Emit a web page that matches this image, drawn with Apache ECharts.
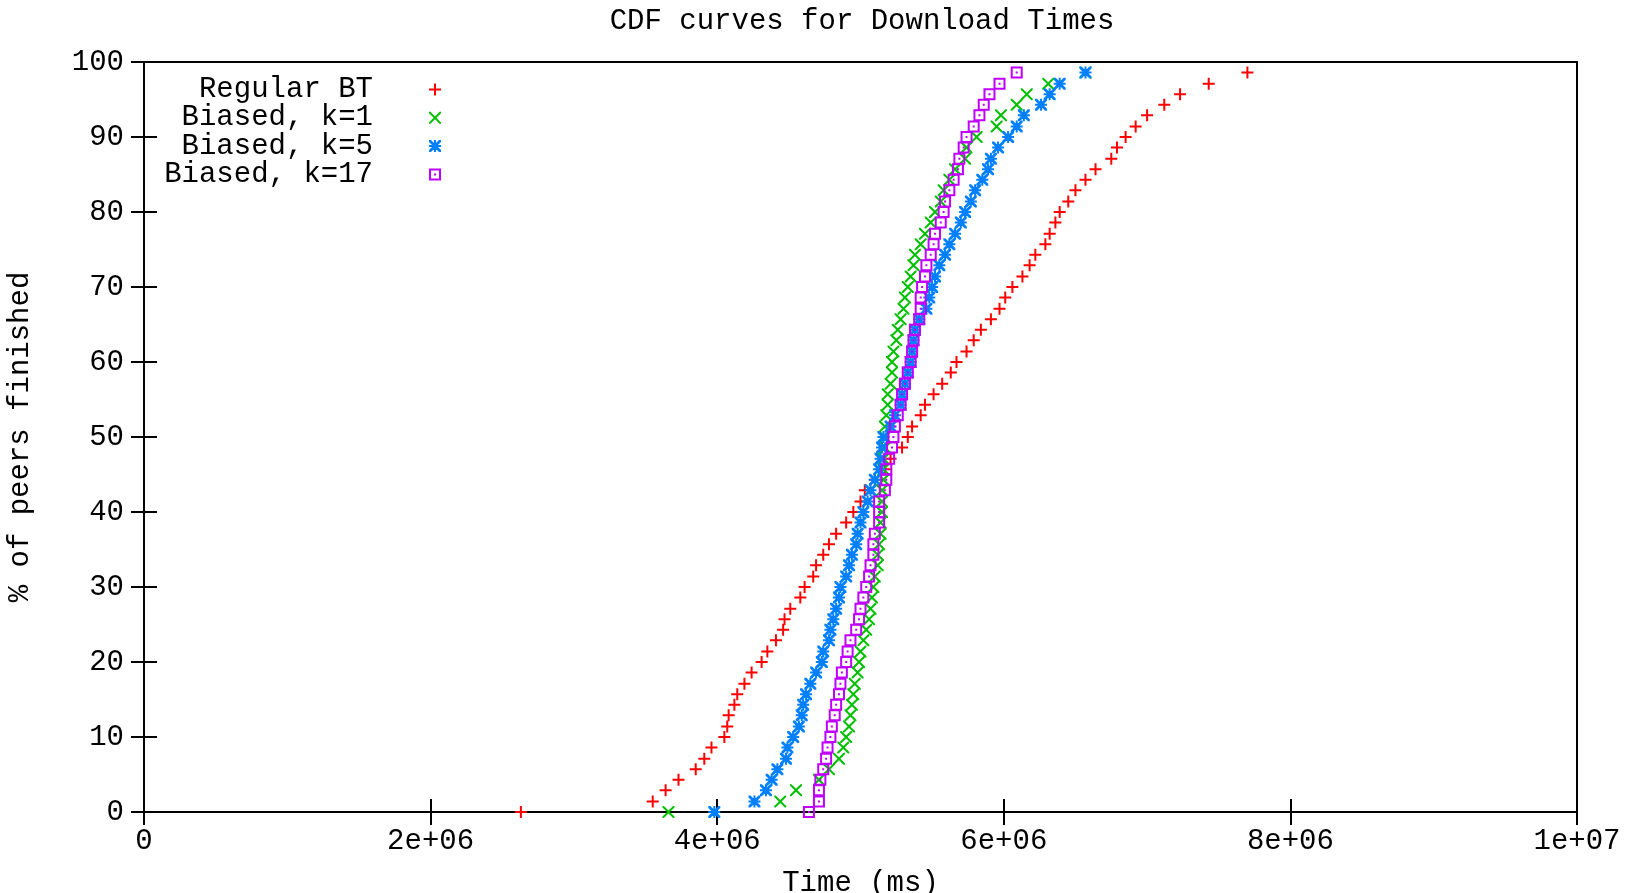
<!DOCTYPE html>
<html>
<head>
<meta charset="utf-8">
<title>CDF curves for Download Times</title>
<script src="https://cdn.jsdelivr.net/npm/echarts@6/dist/echarts.min.js"></script>
<style>
  html, body { margin: 0; padding: 0; background: #fff; }
  #main { width: 1639px; height: 893px; }
</style>
</head>
<body>
<div id="main"></div>
<script>
// % of peers finished, one step per peer (70 peers)
var pct = [0, 1.4, 2.9, 4.3, 5.7, 7.1, 8.6, 10, 11.4, 12.9, 14.3, 15.7, 17.1, 18.6,
  20, 21.4, 22.9, 24.3, 25.7, 27.1, 28.6, 30, 31.4, 32.9, 34.3, 35.7, 37.1, 38.6,
  40, 41.4, 42.9, 44.3, 45.7, 47.1, 48.6, 50, 51.4, 52.9, 54.3, 55.7, 57.1, 58.6,
  60, 61.4, 62.9, 64.3, 65.7, 67.1, 68.6, 70, 71.4, 72.9, 74.3, 75.7, 77.1, 78.6,
  80, 81.4, 82.9, 84.3, 85.7, 87.1, 88.6, 90, 91.4, 92.9, 94.3, 95.7, 97.1, 98.6];

// download times (ms), sorted
var regularBT = [2.63e6, 3.55e6, 3.64e6, 3.73e6, 3.85e6, 3.91e6, 3.96e6, 4.05e6, 4.07e6, 4.08e6,
  4.12e6, 4.14e6, 4.19e6, 4.24e6, 4.31e6, 4.35e6, 4.41e6, 4.46e6, 4.47e6, 4.51e6,
  4.58e6, 4.61e6, 4.67e6, 4.69e6, 4.74e6, 4.78e6, 4.83e6, 4.90e6, 4.95e6, 5.00e6,
  5.03e6, 5.10e6, 5.17e6, 5.21e6, 5.29e6, 5.33e6, 5.36e6, 5.42e6, 5.45e6, 5.51e6,
  5.57e6, 5.63e6, 5.67e6, 5.74e6, 5.79e6, 5.84e6, 5.91e6, 5.97e6, 6.01e6, 6.06e6,
  6.13e6, 6.18e6, 6.22e6, 6.29e6, 6.32e6, 6.36e6, 6.39e6, 6.45e6, 6.50e6, 6.57e6,
  6.64e6, 6.75e6, 6.79e6, 6.85e6, 6.92e6, 7.00e6, 7.12e6, 7.23e6, 7.43e6, 7.70e6];

var biasedK1 = [3.66e6, 4.44e6, 4.55e6, 4.71e6, 4.78e6, 4.85e6, 4.88e6, 4.90e6, 4.92e6, 4.93e6,
  4.94e6, 4.95e6, 4.96e6, 4.98e6, 4.99e6, 5.00e6, 5.02e6, 5.04e6, 5.06e6, 5.07e6,
  5.08e6, 5.09e6, 5.10e6, 5.12e6, 5.12e6, 5.13e6, 5.14e6, 5.14e6, 5.15e6, 5.15e6,
  5.15e6, 5.16e6, 5.16e6, 5.16e6, 5.17e6, 5.17e6, 5.17e6, 5.18e6, 5.19e6, 5.19e6,
  5.21e6, 5.22e6, 5.22e6, 5.23e6, 5.25e6, 5.26e6, 5.28e6, 5.30e6, 5.31e6, 5.33e6,
  5.35e6, 5.37e6, 5.38e6, 5.42e6, 5.45e6, 5.49e6, 5.52e6, 5.56e6, 5.58e6, 5.62e6,
  5.66e6, 5.73e6, 5.74e6, 5.81e6, 5.95e6, 5.98e6, 6.09e6, 6.16e6, 6.31e6, 6.57e6];

var biasedK5 = [3.98e6, 4.26e6, 4.34e6, 4.38e6, 4.42e6, 4.48e6, 4.49e6, 4.53e6, 4.57e6, 4.59e6,
  4.60e6, 4.62e6, 4.65e6, 4.69e6, 4.73e6, 4.74e6, 4.78e6, 4.79e6, 4.81e6, 4.83e6,
  4.85e6, 4.86e6, 4.90e6, 4.92e6, 4.94e6, 4.97e6, 4.98e6, 5.00e6, 5.02e6, 5.05e6,
  5.07e6, 5.10e6, 5.13e6, 5.14e6, 5.15e6, 5.16e6, 5.21e6, 5.24e6, 5.28e6, 5.29e6,
  5.31e6, 5.33e6, 5.35e6, 5.36e6, 5.37e6, 5.38e6, 5.41e6, 5.46e6, 5.48e6, 5.50e6,
  5.52e6, 5.55e6, 5.59e6, 5.62e6, 5.66e6, 5.70e6, 5.73e6, 5.77e6, 5.80e6, 5.85e6,
  5.89e6, 5.91e6, 5.96e6, 6.03e6, 6.09e6, 6.14e6, 6.26e6, 6.32e6, 6.39e6, 6.57e6];

var biasedK17 = [4.64e6, 4.71e6, 4.71e6, 4.72e6, 4.74e6, 4.76e6, 4.77e6, 4.79e6, 4.80e6, 4.82e6,
  4.83e6, 4.85e6, 4.86e6, 4.87e6, 4.90e6, 4.91e6, 4.93e6, 4.97e6, 4.99e6, 5.00e6,
  5.02e6, 5.04e6, 5.06e6, 5.07e6, 5.09e6, 5.09e6, 5.10e6, 5.13e6, 5.13e6, 5.13e6,
  5.17e6, 5.18e6, 5.18e6, 5.20e6, 5.22e6, 5.23e6, 5.24e6, 5.26e6, 5.28e6, 5.29e6,
  5.31e6, 5.33e6, 5.35e6, 5.36e6, 5.37e6, 5.38e6, 5.41e6, 5.42e6, 5.42e6, 5.43e6,
  5.45e6, 5.46e6, 5.49e6, 5.51e6, 5.52e6, 5.56e6, 5.58e6, 5.59e6, 5.62e6, 5.65e6,
  5.68e6, 5.69e6, 5.72e6, 5.74e6, 5.79e6, 5.83e6, 5.86e6, 5.90e6, 5.97e6, 6.09e6];

var seriesNames = ['Regular BT', 'Biased, k=1', 'Biased, k=5', 'Biased, k=17'];
var seriesData = [regularBT, biasedK1, biasedK5, biasedK17];
var seriesColors = ['#ff0000', '#00c000', '#0080ff', '#c000ff'];
var xTickLabels = ['0', '2e+06', '4e+06', '6e+06', '8e+06', '1e+07'];

// gnuplot point types: plus, cross, star, open box (with centre dot)
var symbols = [
  'path://M5,0H7V5H12V7H7V12H5V7H0V5H5Z',
  'path://M0,0L1.4,0L6,4.6L10.6,0L12,0L12,1.4L7.4,6L12,10.6L12,12L10.6,12L6,7.4L1.4,12L0,12L0,10.6L4.6,6L0,1.4Z',
  'path://M5,0H7V5H12V7H7V12H5V7H0V5H5ZM0,0L2,0L6,4L10,0L12,0L12,2L8,6L12,10L12,12L10,12L6,8L2,12L0,12L0,10L4,6L0,2Z',
  'path://M0,0H12V12H0ZM2,2V10H10V2ZM5,5H7V7H5Z'
];

var FONT = '"Liberation Mono", "DejaVu Sans Mono", monospace';
var FS = 29;

var chart = echarts.init(document.getElementById('main'));

var legends = seriesNames.map(function (name, i) {
  return {
    data: [name],
    orient: 'vertical',
    align: 'right',
    right: 1198,
    top: 75 + 28.3 * i,
    padding: 0,
    itemWidth: 12,
    itemHeight: 12,
    selectedMode: false,
    textStyle: { fontFamily: FONT, fontSize: FS, color: '#000', padding: [0, 51, 0, 0] }
  };
});

var series = seriesNames.map(function (name, i) {
  return {
    name: name,
    type: 'scatter',
    symbol: symbols[i],
    symbolSize: 12,
    itemStyle: { color: seriesColors[i], opacity: 1 },
    emphasis: { disabled: true },
    data: seriesData[i].map(function (x, k) { return [x, pct[k]]; })
  };
});

var tickStyle = { inside: true, length: 13, lineStyle: { color: '#000', width: 2 } };

var option = {
  animation: false,
  backgroundColor: '#fff',
  title: {
    text: 'CDF curves for Download Times',
    left: 857,
    textAlign: 'center',
    top: 2,
    textStyle: { fontFamily: FONT, fontSize: FS, fontWeight: 'normal', color: '#000' }
  },
  legend: legends,
  grid: {
    left: 144, right: 62, top: 62, bottom: 81,
    outerBoundsMode: 'none',
    containLabel: false,
    show: true, borderColor: '#000', borderWidth: 2
  },
  xAxis: [{
    type: 'value', min: 0, max: 1e7, interval: 2e6,
    name: 'Time (ms)', nameLocation: 'middle', nameGap: 57,
    nameTextStyle: { fontFamily: FONT, fontSize: FS, color: '#000' },
    axisLine: { show: false },
    axisTick: tickStyle,
    splitLine: { show: false },
    axisLabel: {
      margin: 15, fontFamily: FONT, fontSize: FS, color: '#000',
      formatter: function (v) { return xTickLabels[Math.round(v / 2e6)]; }
    }
  }, {
    type: 'value', position: 'top', min: 0, max: 1e7, interval: 2e6,
    axisLine: { show: false }, axisTick: tickStyle,
    axisLabel: { show: false }, splitLine: { show: false }
  }],
  yAxis: [{
    type: 'value', min: 0, max: 100, interval: 10,
    name: '% of peers finished', nameLocation: 'middle', nameGap: 109,
    nameTextStyle: { fontFamily: FONT, fontSize: FS, color: '#000' },
    axisLine: { show: false },
    axisTick: tickStyle,
    splitLine: { show: false },
    axisLabel: { margin: 20, fontFamily: FONT, fontSize: FS, color: '#000' }
  }, {
    type: 'value', position: 'right', min: 0, max: 100, interval: 10,
    axisLine: { show: false }, axisTick: tickStyle,
    axisLabel: { show: false }, splitLine: { show: false }
  }],
  series: series
};

chart.setOption(option);
</script>
</body>
</html>
